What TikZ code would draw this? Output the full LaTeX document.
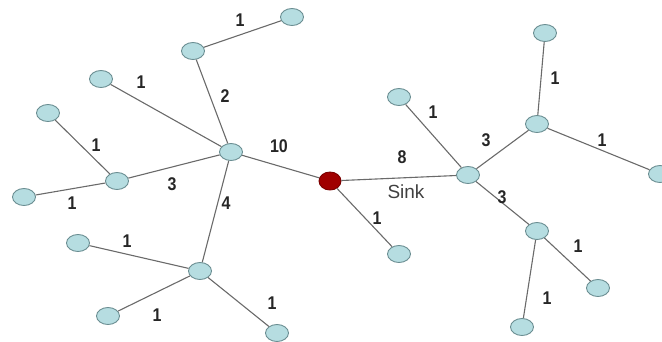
\documentclass[tikz,border=0pt]{standalone}
\usepackage{fontspec}
\setmainfont{Liberation Sans}
\usetikzlibrary{shapes.geometric}
% link weights are set slightly taller than wide
\newcommand\tallnum[1]{\scalebox{1}[1.15]{#1}}
\begin{document}
\begin{tikzpicture}[x=1pt,y=-1pt,
  sensor/.style={ellipse,draw=nodeedge,fill=nodefill,line width=0.9pt,minimum width=23pt,minimum height=17pt,inner sep=0pt},
  sinknode/.style={ellipse,draw=sinkedge,fill=sinkfill,line width=0.9pt,minimum width=22pt,minimum height=18pt,inner sep=0pt},
  link/.style={draw=linkgray,line width=1.1pt},
  weight/.style={font=\fontsize{16}{16}\selectfont\bfseries,text=black!85,inner sep=0pt},
  tag/.style={font=\fontsize{19}{19}\selectfont,text=black!75,inner sep=0pt}]
\definecolor{nodefill}{HTML}{B6DDE1}
\definecolor{nodeedge}{HTML}{6B8E92}
\definecolor{sinkfill}{HTML}{A00000}
\definecolor{sinkedge}{HTML}{7A0000}
\definecolor{linkgray}{HTML}{6A6A6A}
\useasboundingbox (0,0) rectangle (662,341);
\begin{scope}
\clip (0,0) rectangle (662,341);
% sensors and the sink
\node[sensor] (A) at (292,17) {};
\node[sensor] (B) at (193,51) {};
\node[sensor] (C) at (101,79) {};
\node[sensor] (D) at (48,113) {};
\node[sensor] (G) at (231,152) {};
\node[sensor] (F) at (117,181) {};
\node[sensor] (E) at (24,197) {};
\node[sensor] (Q) at (78,243) {};
\node[sensor] (R) at (200,271) {};
\node[sensor] (S) at (108,316) {};
\node[sensor] (T) at (277,333) {};
\node[sinknode] (K0) at (330,181) {};
\node[sensor] (H) at (399,97) {};
\node[sensor] (I) at (468,175) {};
\node[sensor] (J) at (545,33) {};
\node[sensor] (K) at (537,124) {};
\node[sensor] (L) at (660,174) {};
\node[sensor] (M) at (537,231) {};
\node[sensor] (N) at (598,288) {};
\node[sensor] (O) at (522,327) {};
\node[sensor] (P) at (399,254) {};
% links
\draw[link] (A) -- (B);
\draw[link] (B) -- (G);
\draw[link] (C) -- (G);
\draw[link] (D) -- (F);
\draw[link] (F) -- (G);
\draw[link] (E) -- (F);
\draw[link] (G) -- (K0);
\draw[link] (G) -- (R);
\draw[link] (Q) -- (R);
\draw[link] (S) -- (R);
\draw[link] (R) -- (T);
\draw[link] (K0) -- (I);
\draw[link] (K0) -- (P);
\draw[link] (H) -- (I);
\draw[link] (I) -- (K);
\draw[link] (J) -- (K);
\draw[link] (K) -- (L);
\draw[link] (I) -- (M);
\draw[link] (M) -- (N);
\draw[link] (M) -- (O);
% link weights
\node[weight] (wAB) at (240,20) {\tallnum{1}};
\node[weight] (wCG) at (141,82) {\tallnum{1}};
\node[weight] (wBG) at (225,96) {\tallnum{2}};
\node[weight] (wDF) at (96,145) {\tallnum{1}};
\node[weight] (wGS) at (279,146) {\tallnum{10}};
\node[weight] (wFG) at (172,184) {\tallnum{3}};
\node[weight] (wEF) at (72,203) {\tallnum{1}};
\node[weight] (wGR) at (226,203) {\tallnum{4}};
\node[weight] (wQR) at (127,241) {\tallnum{1}};
\node[weight] (wSR) at (157,315) {\tallnum{1}};
\node[weight] (wRT) at (272,303) {\tallnum{1}};
\node[weight] (wHI) at (433,112) {\tallnum{1}};
\node[weight] (wIK) at (486,140) {\tallnum{3}};
\node[weight] (wSI) at (402,157) {\tallnum{8}};
\node[weight] (wJK) at (555,78) {\tallnum{1}};
\node[weight] (wKL) at (602,140) {\tallnum{1}};
\node[weight] (wSP) at (377,218) {\tallnum{1}};
\node[weight] (wIM) at (502,197) {\tallnum{3}};
\node[weight] (wMN) at (578,246) {\tallnum{1}};
\node[weight] (wMO) at (547,298) {\tallnum{1}};
\node[tag] (sinklabel) at (406,192) {Sink};
\end{scope}
\end{tikzpicture}
\end{document}
